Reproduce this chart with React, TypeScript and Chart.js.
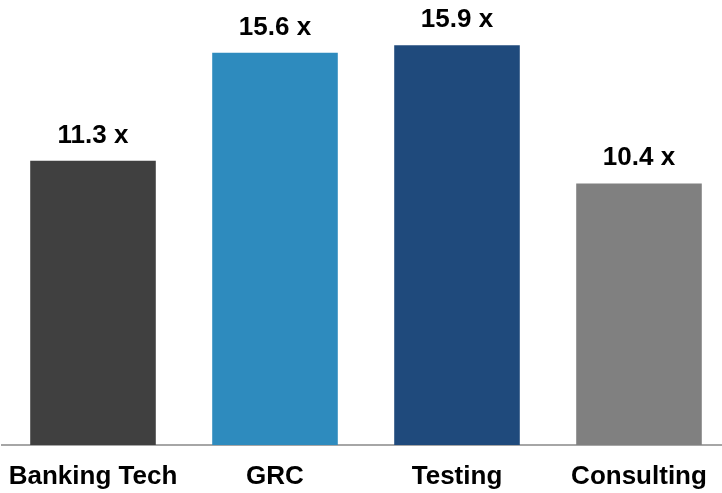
import React, { useEffect, useRef } from "react";
import { Chart, registerables } from "chart.js";

Chart.register(...registerables);

const categories = ["Banking Tech", "GRC", "Testing", "Consulting"];
const values = [11.3, 15.6, 15.9, 10.4];
const barColors = ["#404040", "#2E8BBE", "#1F4A7C", "#808080"];
const valueSuffix = " x";

const FONT = '"Liberation Sans", Arial, sans-serif';

const valueLabels = {
  id: "valueLabels",
  afterDatasetsDraw(chart: any) {
    const ctx = chart.ctx;
    const meta = chart.getDatasetMeta(0);
    ctx.save();
    ctx.font = `bold 26px ${FONT}`;
    ctx.fillStyle = "#000000";
    ctx.textAlign = "center";
    ctx.textBaseline = "alphabetic";
    meta.data.forEach((bar: any, i: number) => {
      ctx.fillText(`${values[i]}${valueSuffix}`, bar.x, bar.y - 18);
    });
    ctx.restore();
  },
};

export default function App() {
  const ref = useRef<HTMLCanvasElement | null>(null);
  useEffect(() => {
    if (!ref.current) return;
    const chart = new Chart(ref.current, {
      type: "bar",
      data: {
        labels: categories,
        datasets: [
          {
            data: values,
            backgroundColor: barColors,
            borderWidth: 0,
            categoryPercentage: 1,
            barPercentage: 0.69,
          },
        ],
      },
      options: {
        responsive: false,
        animation: false,
        layout: { padding: { top: 10, left: 2, right: 0, bottom: 0 } },
        plugins: {
          legend: { display: false },
          tooltip: { enabled: false },
        },
        scales: {
          x: {
            grid: { display: false, drawTicks: false },
            border: { display: true, color: "#A6A6A6", width: 2 },
            ticks: {
              color: "#000000",
              padding: 0,
              font: { family: FONT, size: 26, weight: "bold", lineHeight: "63px" },
            },
          },
          y: {
            display: false,
            min: 0,
            max: 17.3,
          },
        },
      },
      plugins: [valueLabels],
    });
    return () => chart.destroy();
  }, []);
  return (
    <div
      style={{
        position: "fixed",
        left: 0,
        top: 0,
        width: 722,
        height: 493,
        overflow: "hidden",
        background: "#ffffff",
      }}
    >
      <canvas ref={ref} width={730} height={508} style={{ display: "block" }} />
    </div>
  );
}
